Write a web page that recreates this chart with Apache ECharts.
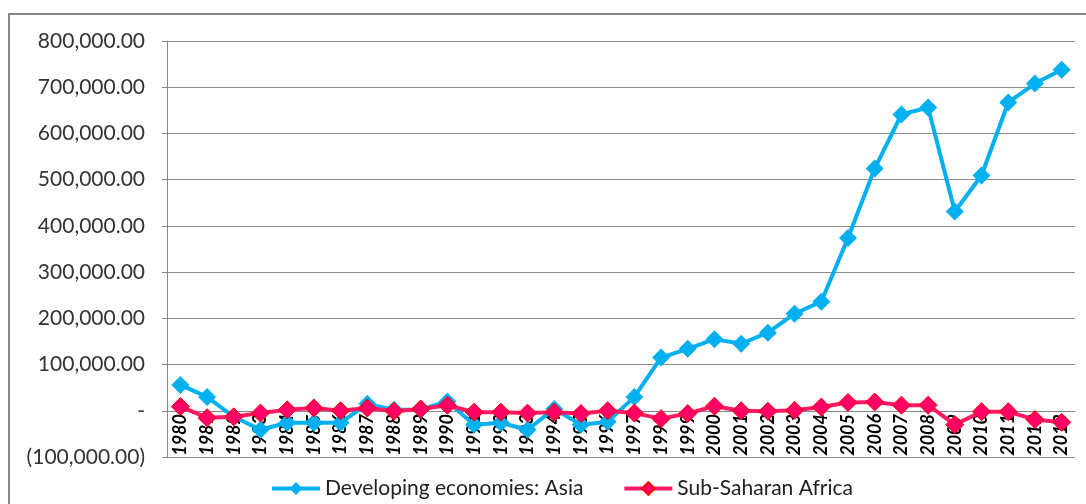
<html>
<head>
    <meta charset="utf-8" />
    <style>
        html, body { margin: 0; padding: 0; background: #fff; }
        #chart { width: 1086px; height: 504px; }
    </style>
    <script src="https://cdn.jsdelivr.net/npm/echarts@6/dist/echarts.min.js"></script>
</head>
<body>
    <div id="chart"></div>
    <script type="text/javascript">
        var years = ['1980', '1981', '1982', '1983', '1984', '1985', '1986', '1987', '1988', '1989',
            '1990', '1991', '1992', '1993', '1994', '1995', '1996', '1997', '1998', '1999',
            '2000', '2001', '2002', '2003', '2004', '2005', '2006', '2007', '2008', '2009',
            '2010', '2011', '2012', '2013'];
        var asia = [56000, 30000, -13000, -41000, -26000, -26000, -26000, 15000, 2000, 3000,
            20000, -30000, -26000, -41000, 4000, -30000, -24000, 30000, 115000, 134000,
            155000, 145000, 169000, 210000, 236000, 374000, 524000, 641000, 656000, 431000,
            509000, 667000, 708000, 738000];
        var africa = [9000, -15000, -13000, -5000, 2000, 6000, 0, 6000, -1000, 4000,
            12000, -3000, -3000, -5000, -3000, -6000, 0, -5000, -17000, -6000,
            10000, 0, -1000, 1000, 8000, 18000, 19000, 12000, 12000, -30000,
            -2000, -2000, -19000, -25000];

        function fmt(v) {
            if (v === 0) return '-';
            var s = Math.abs(v).toLocaleString('en-US', { minimumFractionDigits: 2, maximumFractionDigits: 2 });
            return v < 0 ? '(' + s + ')' : s;
        }

        var chart = echarts.init(document.getElementById('chart'));
        var option = {
            backgroundColor: '#fff',
            animation: false,
            textStyle: { fontFamily: 'Lato' },
            graphic: [{
                type: 'rect',
                shape: { x: 9, y: 14, width: 1090, height: 500 },
                style: { fill: null, stroke: '#868686', lineWidth: 2 },
                silent: true
            }],
            grid: { left: 167, right: 11, top: 41, bottom: 47 },
            legend: {
                bottom: 0,
                left: 265,
                itemWidth: 48,
                itemHeight: 16,
                itemGap: 39,
                lineStyle: { width: 4 },
                textStyle: { fontSize: 21, color: '#222', fontFamily: 'Lato' },
                data: ['Developing economies: Asia', 'Sub-Saharan Africa']
            },
            xAxis: {
                type: 'category',
                data: years,
                boundaryGap: true,
                // axis sits on the zero line: 100,000 below it is 46px
                offset: -46,
                axisLine: { onZero: false, lineStyle: { color: '#868686', width: 1 } },
                axisTick: { inside: true, length: 5, lineStyle: { color: '#868686' } },
                axisLabel: {
                    rotate: 90,
                    interval: 0,
                    margin: 3,
                    fontSize: 18,
                    fontStyle: 'italic',
                    fontWeight: 'bold',
                    color: '#000',
                    fontFamily: 'Lato'
                }
            },
            yAxis: {
                type: 'value',
                min: -100000,
                max: 800000,
                interval: 100000,
                axisLine: { show: true, lineStyle: { color: '#868686' } },
                axisTick: { show: true, length: 5, lineStyle: { color: '#868686' } },
                splitLine: { lineStyle: { color: '#8c8c8c', width: 1 } },
                axisLabel: {
                    formatter: fmt,
                    fontSize: 21,
                    margin: 22,
                    color: '#333',
                    fontFamily: 'Lato'
                }
            },
            series: [{
                name: 'Developing economies: Asia',
                type: 'line',
                data: asia,
                symbol: 'diamond',
                symbolSize: 18,
                lineStyle: { color: '#00B0F0', width: 4 },
                itemStyle: { color: '#00B0F0' },
                z: 2
            }, {
                name: 'Sub-Saharan Africa',
                type: 'line',
                data: africa,
                symbol: 'diamond',
                symbolSize: 18,
                lineStyle: { color: '#FF1A66', width: 4 },
                itemStyle: { color: '#FF0066', borderColor: '#FF0000', borderWidth: 1 },
                z: 3
            }]
        };
        chart.setOption(option);
    </script>
</body>
</html>
